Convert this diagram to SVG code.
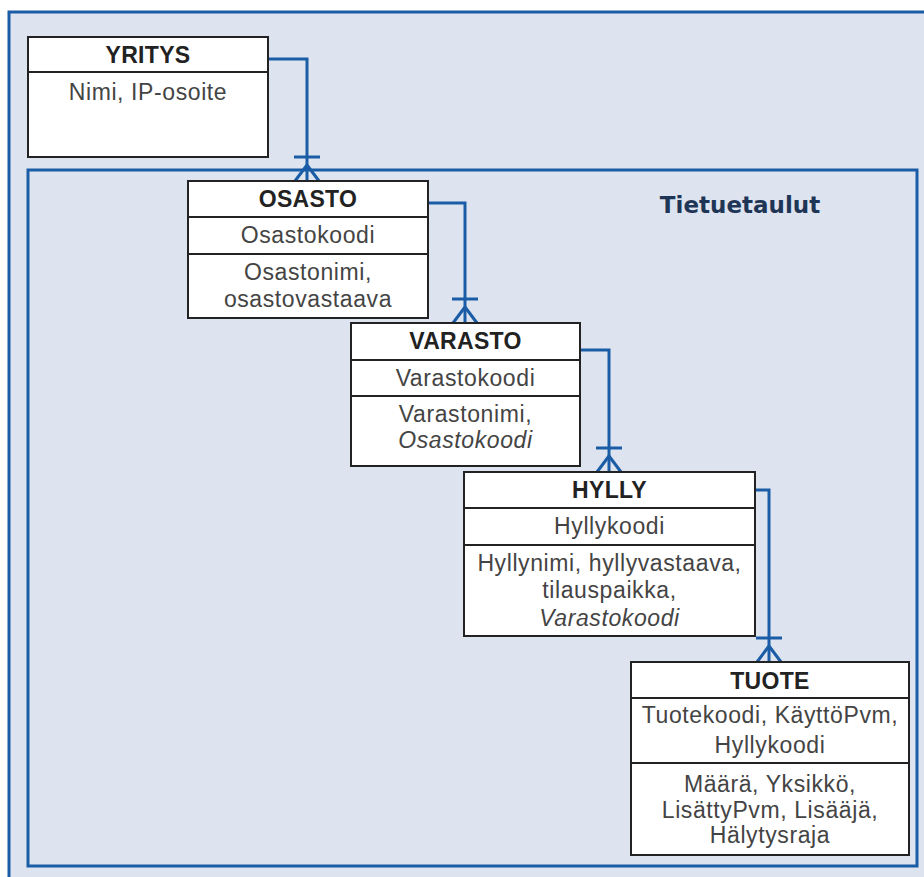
<svg xmlns="http://www.w3.org/2000/svg" width="924" height="877" viewBox="0 0 924 877">
  <style>
    .frame { fill: #dde4ef; stroke: #1b5ca6; stroke-width: 3; }
    .box { fill: #ffffff; stroke: #222222; stroke-width: 2; }
    .div { stroke: #222222; stroke-width: 2; fill: none; }
    .hdr { font-family: "Liberation Sans", Arial, sans-serif; font-size: 23px; font-weight: bold; letter-spacing: 0.3px; fill: #222222; text-anchor: middle; }
    .txt { font-family: "Liberation Sans", Arial, sans-serif; font-size: 23px; letter-spacing: 0.6px; fill: #444444; text-anchor: middle; }
    .it { font-style: italic; }
    .conn { fill: none; stroke: #1b5ca6; stroke-width: 3; marker-end: url(#many); }
    .title { font-family: "DejaVu Sans", Verdana, sans-serif; font-size: 23px; font-weight: bold; fill: #1f3556; text-anchor: middle; }
  </style>
  <defs>
    <!-- crow's foot: one-to-many end -->
    <marker id="many" markerUnits="userSpaceOnUse" orient="auto" viewBox="-30 -16 32 32" refX="0" refY="0" markerWidth="32" markerHeight="32" overflow="visible">
      <path d="M-24,-13 V13 M-16,0 L0,-12 M-16,0 L0,12" fill="none" stroke="#1b5ca6" stroke-width="3"/>
    </marker>
  </defs>

  <!-- outer frame -->
  <rect class="frame" x="9" y="12" width="930" height="880"/>
  <!-- record tables frame -->
  <rect class="frame" x="28" y="170" width="889" height="696"/>
  <text class="title" x="740" y="213">Tietuetaulut</text>

  <g id="connectors">
    <path class="conn" d="M268,59 H307 V181"/>
    <path class="conn" d="M428,203 H465 V323"/>
    <path class="conn" d="M580,350 H609 V472"/>
    <path class="conn" d="M755,490 H769 V662"/>
  </g>

  <g id="yritys">
    <rect class="box" x="28" y="37" width="240" height="120"/>
    <line class="div" x1="28" y1="72" x2="268" y2="72"/>
    <text class="hdr" x="148" y="63">YRITYS</text>
    <text class="txt" x="148" y="100">Nimi, IP-osoite</text>
  </g>

  <g id="osasto">
    <rect class="box" x="188" y="181" width="240" height="137"/>
    <line class="div" x1="188" y1="217" x2="428" y2="217"/>
    <line class="div" x1="188" y1="254" x2="428" y2="254"/>
    <text class="hdr" x="308" y="207">OSASTO</text>
    <text class="txt" x="308" y="243">Osastokoodi</text>
    <text class="txt" x="308" y="280">Osastonimi,</text>
    <text class="txt" x="308" y="307">osastovastaava</text>
  </g>

  <g id="varasto">
    <rect class="box" x="351" y="323" width="229" height="143"/>
    <line class="div" x1="351" y1="360" x2="580" y2="360"/>
    <line class="div" x1="351" y1="396" x2="580" y2="396"/>
    <text class="hdr" x="465.5" y="349">VARASTO</text>
    <text class="txt" x="465.5" y="386">Varastokoodi</text>
    <text class="txt" x="465.5" y="422">Varastonimi,</text>
    <text class="txt it" x="465.5" y="448">Osastokoodi</text>
  </g>

  <g id="hylly">
    <rect class="box" x="464" y="472" width="291" height="164"/>
    <line class="div" x1="464" y1="508" x2="755" y2="508"/>
    <line class="div" x1="464" y1="545" x2="755" y2="545"/>
    <text class="hdr" x="609.5" y="498">HYLLY</text>
    <text class="txt" x="609.5" y="534">Hyllykoodi</text>
    <text class="txt" x="609.5" y="571">Hyllynimi, hyllyvastaava,</text>
    <text class="txt" x="609.5" y="598">tilauspaikka,</text>
    <text class="txt it" x="609.5" y="626">Varastokoodi</text>
  </g>

  <g id="tuote">
    <rect class="box" x="631" y="662" width="278" height="193"/>
    <line class="div" x1="631" y1="698" x2="909" y2="698"/>
    <line class="div" x1="631" y1="763" x2="909" y2="763"/>
    <text class="hdr" x="770" y="689">TUOTE</text>
    <text class="txt" x="770" y="723">Tuotekoodi, KäyttöPvm,</text>
    <text class="txt" x="770" y="753">Hyllykoodi</text>
    <text class="txt" x="770" y="792">Määrä, Yksikkö,</text>
    <text class="txt" x="770" y="818">LisättyPvm, Lisääjä,</text>
    <text class="txt" x="770" y="843">Hälytysraja</text>
  </g>
</svg>
